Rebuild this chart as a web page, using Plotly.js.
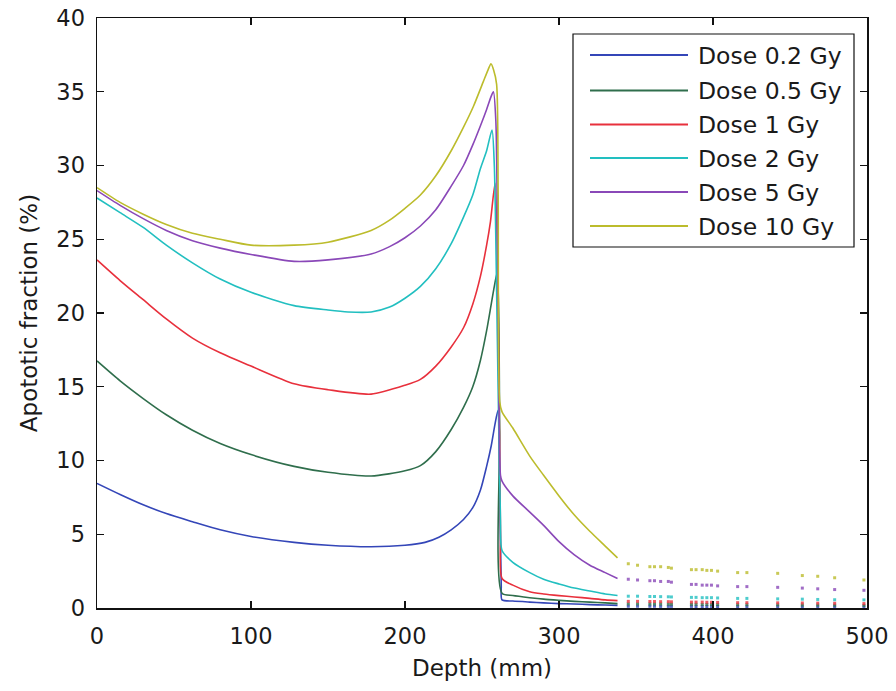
<!DOCTYPE html>
<html><head><meta charset="utf-8">
<script src="https://cdn.plot.ly/plotly-3.0.1.min.js"></script>
<style>html,body{margin:0;padding:0;background:#fff}#chart{width:896px;height:691px}</style>
</head><body><div id="chart"></div>
<script>
// ---- data ----
const seriesNames = ["Dose 0.2 Gy", "Dose 0.5 Gy", "Dose 1 Gy", "Dose 2 Gy", "Dose 5 Gy", "Dose 10 Gy"];
const seriesColors = ["#3446b8", "#2f6e4c", "#e8303c", "#22bfc0", "#8a48b8", "#bcbc2c"];

const depth02 = [0,15,30,45,62,80,100,128,150,178,200,213,222,230,238,244,249,253,256,258.5,260.4,261.5,262.5,263,270,281,290,300,310,320,330,338];
const apo02   = [8.45,7.7,7.0,6.4,5.85,5.3,4.85,4.45,4.25,4.15,4.25,4.45,4.8,5.3,6.0,6.8,8.0,9.6,11.0,12.5,13.4,8.0,1.5,0.55,0.47,0.4,0.35,0.3,0.27,0.23,0.2,0.18];

const depth05 = [0,15,30,45,62,80,100,128,150,178,200,210,220,230,238,244,249,253,256,258,260,261.5,263,270,281,290,300,310,320,330,338];
const apo05   = [16.75,15.4,14.2,13.1,12.05,11.15,10.4,9.6,9.2,8.95,9.3,9.65,10.6,12.1,13.6,15.0,16.8,18.8,20.6,21.8,22.8,12.0,1.0,0.85,0.7,0.6,0.52,0.45,0.4,0.35,0.3];

const depth1 = [0,15,30,45,62,80,100,128,150,178,200,210,220,230,238,244,249,253,255.5,258.5,260.5,262,263,270,281,290,300,310,320,330,338];
const apo1   = [23.6,22.2,20.9,19.6,18.3,17.3,16.4,15.2,14.8,14.5,15.1,15.5,16.4,17.7,19.0,20.6,22.5,24.6,26.2,28.8,20.0,5.0,2.0,1.55,1.1,0.95,0.84,0.75,0.65,0.55,0.5];

const depth2 = [0,15,30,45,62,80,100,128,150,163,178,190,200,210,220,230,238,244,249,253,256.5,258,260,262,263,270,281,290,300,310,320,330,338];
const apo2   = [27.8,26.8,25.8,24.6,23.4,22.3,21.4,20.5,20.2,20.07,20.07,20.4,21.0,21.8,23.0,24.7,26.5,28.0,29.8,31.0,32.4,30.0,18.0,6.0,3.9,3.1,2.4,1.95,1.63,1.35,1.15,0.95,0.85];

const depth5 = [0,15,30,45,62,80,100,128,150,178,190,200,210,220,230,238,244,249,253,256,257.4,259,260.5,262,263,270,280,290,300,310,320,330,338];
const apo5   = [28.3,27.3,26.4,25.6,24.9,24.4,23.97,23.5,23.6,24.0,24.5,25.1,25.9,27.0,28.6,30.0,31.4,32.7,33.8,34.7,35.0,33.0,20.0,9.0,8.6,7.6,6.6,5.6,4.5,3.6,2.9,2.4,2.0];

const depth10 = [0,15,30,45,62,80,100,128,150,178,190,200,210,220,230,238,244.4,250.9,254,255.8,257.5,259.5,260.5,261.5,263,270,281,290,300,310,320,330,338];
const apo10   = [28.5,27.5,26.7,26.0,25.4,25.0,24.6,24.6,24.8,25.6,26.3,27.1,28.0,29.3,31.0,32.6,34.0,35.7,36.5,36.9,36.5,35.5,28.0,14.0,13.3,12.2,10.3,9.0,7.6,6.3,5.2,4.2,3.4];

// sparse, noisy tail samples beyond ~340 mm
const tailDepth = [345,351,359,362,366,371,373,386,389,393,396,399,403,416,422,442,458,468,479,498];
const tail02 = [0.12,0.12,0.12,0.12,0.11,0.11,0.11,0.11,0.1,0.1,0.1,0.1,0.1,0.09,0.09,0.09,0.08,0.08,0.08,0.08];
const tail05 = [0.28,0.28,0.27,0.27,0.27,0.26,0.26,0.25,0.25,0.24,0.24,0.24,0.23,0.22,0.22,0.21,0.2,0.2,0.19,0.18];
const tail1  = [0.45,0.45,0.44,0.44,0.43,0.43,0.42,0.4,0.4,0.4,0.39,0.39,0.38,0.36,0.36,0.35,0.34,0.33,0.32,0.3];
const tail2  = [0.8,0.8,0.78,0.78,0.77,0.76,0.75,0.72,0.72,0.7,0.7,0.7,0.68,0.65,0.65,0.62,0.6,0.58,0.56,0.55];
const tail5  = [1.95,1.9,1.85,1.85,1.8,1.8,1.75,1.6,1.6,1.55,1.55,1.55,1.5,1.45,1.45,1.4,1.35,1.3,1.25,1.2];
const tail10 = [3.0,2.9,2.8,2.8,2.8,2.75,2.7,2.6,2.6,2.6,2.55,2.55,2.5,2.4,2.4,2.35,2.2,2.15,2.05,1.9];

const xTickVals = [0,100,200,300,400,500];
const yTickVals = [0,5,10,15,20,25,30,35,40];

// ---- build ----
const mainX = [depth02, depth05, depth1, depth2, depth5, depth10];
const mainY = [apo02, apo05, apo1, apo2, apo5, apo10];
const tailY = [tail02, tail05, tail1, tail2, tail5, tail10];

const FONT = "DejaVu Sans, Arial, sans-serif";
const traces = [];
for (let i = 0; i < seriesNames.length; i++) {
  traces.push({
    x: mainX[i], y: mainY[i], type: "scatter", mode: "lines", name: seriesNames[i],
    line: {color: seriesColors[i], width: 1.6, shape: "spline", smoothing: 0.7},
    showlegend: false, hoverinfo: "skip"
  });
  traces.push({
    x: tailDepth, y: tailY[i], type: "scatter", mode: "markers", name: seriesNames[i] + " tail",
    marker: {color: seriesColors[i], size: 3, symbol: "square", opacity: 0.8},
    showlegend: false, hoverinfo: "skip"
  });
}

// plot area in px: x 97..867, y 18..608
const L = 97, R = 867, T = 18, B = 608;
const px2x = px => (px - L) / (R - L);
const py2y = py => (B - py) / (B - T);

const shapes = [{
  type: "rect", xref: "paper", yref: "paper",
  x0: px2x(573), x1: px2x(854), y0: py2y(247), y1: py2y(34),
  line: {color: "#111", width: 1.2}, fillcolor: "#fff", layer: "above"
}];
const annotations = [];
const rowY = [55, 90.5, 124.5, 158, 192, 226];
for (let i = 0; i < seriesNames.length; i++) {
  shapes.push({
    type: "line", xref: "paper", yref: "paper",
    x0: px2x(590), x1: px2x(688), y0: py2y(rowY[i]), y1: py2y(rowY[i]),
    line: {color: seriesColors[i], width: 2}, layer: "above"
  });
  annotations.push({
    xref: "paper", yref: "paper", x: px2x(696), y: py2y(rowY[i] + 1),
    xanchor: "left", yanchor: "middle", showarrow: false,
    text: seriesNames[i], font: {family: FONT, size: 23.5, color: "#1a1a1a"}
  });
}

const axisCommon = {
  showgrid: false, zeroline: false, showline: true, linecolor: "#111", linewidth: 1.5,
  mirror: "ticks", ticks: "inside", ticklen: 7, tickwidth: 1.2, tickcolor: "#111",
  tickfont: {family: FONT, size: 22.5, color: "#1a1a1a"}
};

const layout = {
  width: 896, height: 691,
  margin: {l: L, r: 896 - R, t: T, b: 691 - B, pad: 0},
  paper_bgcolor: "#fff", plot_bgcolor: "#fff",
  showlegend: false,
  xaxis: Object.assign({}, axisCommon, {
    range: [0, 500], tickvals: xTickVals, ticktext: xTickVals.map(String),
    ticklabelstandoff: 7,
    title: {text: "Depth (mm)", font: {family: FONT, size: 23, color: "#1a1a1a"}, standoff: 12}
  }),
  yaxis: Object.assign({}, axisCommon, {
    range: [0, 40], tickvals: yTickVals, ticktext: yTickVals.map(String),
    ticklabelstandoff: 6,
    title: {text: "Apototic fraction (%)", font: {family: FONT, size: 23, color: "#1a1a1a"}, standoff: 12}
  }),
  shapes: shapes,
  annotations: annotations
};

Plotly.newPlot("chart", traces, layout, {staticPlot: true, displayModeBar: false});
</script>
</body></html>
